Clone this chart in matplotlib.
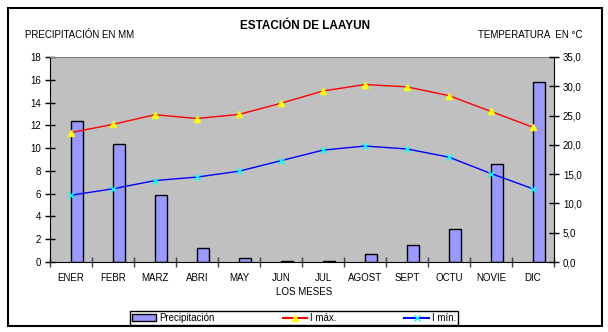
import matplotlib
matplotlib.use("Agg")
import matplotlib.pyplot as plt
from matplotlib.patches import Rectangle
from matplotlib.lines import Line2D
import numpy as np

plt.rcParams['font.family'] = ['Liberation Sans', 'DejaVu Sans']

months = ['ENER', 'FEBR', 'MARZ', 'ABRI', 'MAY', 'JUN', 'JUL', 'AGOST', 'SEPT', 'OCTU', 'NOVIE', 'DIC']
precip = [12.35, 10.4, 5.88, 1.2, 0.32, 0.08, 0.1, 0.67, 1.46, 2.87, 8.58, 15.77]
t_max = [22.1, 23.5, 25.15, 24.5, 25.2, 27.1, 29.2, 30.3, 29.9, 28.4, 25.7, 23.0]
t_min = [11.4, 12.5, 13.9, 14.5, 15.5, 17.3, 19.1, 19.8, 19.3, 17.9, 15.1, 12.5]

W, H = 608, 332
fig = plt.figure(figsize=(W / 100, H / 100), dpi=100)

# outer frame
fig.patches.append(Rectangle((8 / W, 1 - 326 / H), 594 / W, 318 / H, transform=fig.transFigure,
                             fill=False, edgecolor='black', linewidth=1.5))

ax = fig.add_axes([50 / W, 1 - 262 / H, 504 / W, 205 / H])
ax.set_facecolor('#C0C0C0')
x = np.arange(len(months)) + 0.5

ax.bar(x, precip, width=0.29, align='edge', color='#9999FF', edgecolor='black', linewidth=1, zorder=2)
ax.set_xlim(0, 12)
ax.set_ylim(0, 18)
ax.set_yticks(np.arange(0, 19, 2))
ax.set_xticks(np.arange(0, 13))
ax.set_xticklabels([])
ax.set_xticks(x, minor=True)
ax.set_xticklabels(months, minor=True)
ax.tick_params(axis='x', which='minor', length=0, pad=8, labelsize=7)
ax.tick_params(axis='x', which='major', direction='inout', length=7, width=1, color='#404040')
ax.tick_params(axis='y', direction='inout', length=7, width=1, labelsize=7, pad=3)
for s in ['left', 'bottom']:
    ax.spines[s].set_color('black')
ax.spines['top'].set_color('#808080')
ax.spines['right'].set_visible(False)

ax2 = ax.twinx()
ax2.set_ylim(0, 35)
ax2.set_yticks(np.arange(0, 36, 5))
ax2.set_yticklabels([f'{v:.1f}'.replace('.', ',') for v in np.arange(0, 36, 5)])
ax2.tick_params(axis='y', direction='inout', length=7, width=1, labelsize=7, pad=3)
ax2.spines['right'].set_color('black')
ax2.spines['top'].set_visible(False)
ax2.spines['left'].set_visible(False)
ax2.spines['bottom'].set_visible(False)
ax2.plot(x, t_max, color='red', linewidth=1, marker='^', markersize=4,
         markerfacecolor='yellow', markeredgecolor='yellow', zorder=3)
ax2.plot(x, t_min, color='blue', linewidth=1, marker='x', markersize=4,
         markeredgecolor='cyan', zorder=3)

fig.text(305 / W, 1 - 26 / H, 'ESTACIÓN DE LAAYUN', ha='center', va='center',
         fontsize=8.5, fontweight='bold')
fig.text(25 / W, 1 - 35 / H, 'PRECIPITACIÓN EN MM', ha='left', va='center', fontsize=7)
fig.text(583 / W, 1 - 35 / H, 'TEMPERATURA  EN °C', ha='right', va='center', fontsize=7)
fig.text(304 / W, 1 - 292 / H, 'LOS MESES', ha='center', va='center', fontsize=7)

handles = [Rectangle((0, 0), 1, 1, facecolor='#9999FF', edgecolor='black', linewidth=1),
           Line2D([], [], color='red', marker='^', markersize=4,
                  markerfacecolor='yellow', markeredgecolor='yellow'),
           Line2D([], [], color='blue', marker='x', markersize=4, markeredgecolor='cyan')]
leg = fig.legend(handles, ['Precipitación', 'I máx.', 'I mín.'], ncol=3,
                 loc='center', bbox_to_anchor=(294 / W, 1 - 318 / H),
                 fontsize=7, frameon=True, fancybox=False, edgecolor='black',
                 columnspacing=7, handlelength=2.5, handletextpad=0.3,
                 borderpad=0.25, borderaxespad=0, framealpha=1)
leg.get_frame().set_linewidth(1)

fig.savefig('out.png', dpi=100)
